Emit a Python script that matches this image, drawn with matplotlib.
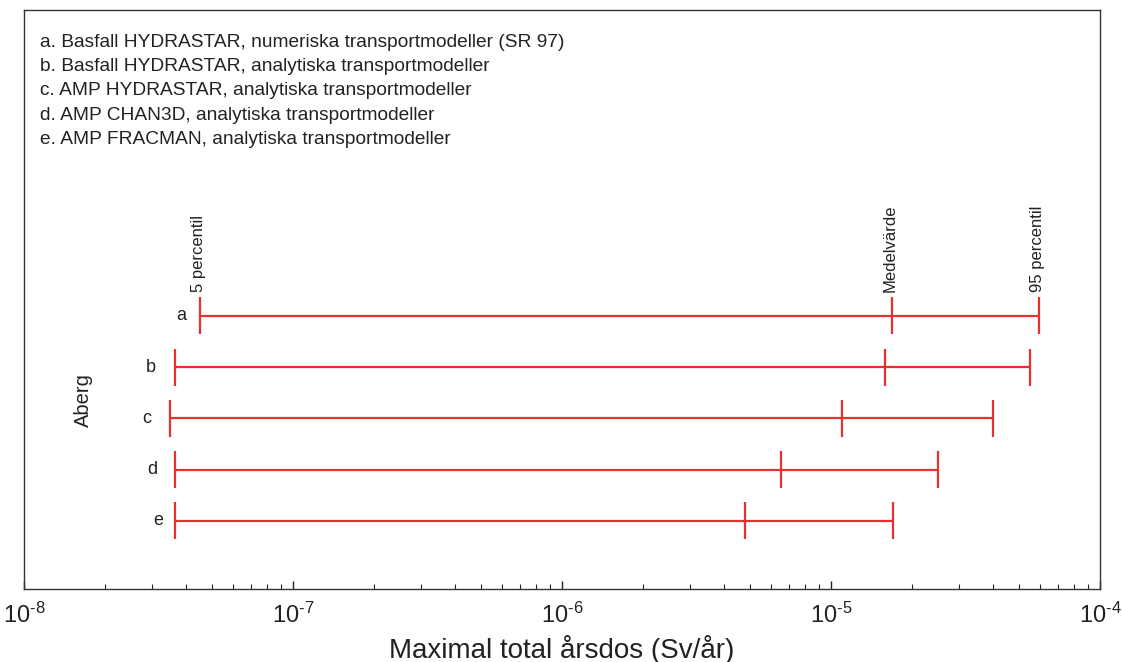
import numpy as np
import matplotlib.pyplot as plt
from matplotlib.ticker import LogLocator, NullFormatter, FuncFormatter

plt.rcParams['font.family'] = ['Liberation Sans', 'DejaVu Sans']
plt.rcParams['mathtext.fontset'] = 'custom'
plt.rcParams['mathtext.rm'] = 'Liberation Sans'

# dose per case: 5 percentile, mean, 95 percentile (Sv/år)
cases = ['a', 'b', 'c', 'd', 'e']
p05 = [4.5e-8, 3.65e-8, 3.5e-8, 3.65e-8, 3.65e-8]
mean = [1.68e-5, 1.59e-5, 1.10e-5, 6.5e-6, 4.8e-6]
p95 = [5.95e-5, 5.5e-5, 4.0e-5, 2.5e-5, 1.7e-5]

legend_lines = [
    'a. Basfall HYDRASTAR, numeriska transportmodeller (SR 97)',
    'b. Basfall HYDRASTAR, analytiska transportmodeller',
    'c. AMP HYDRASTAR, analytiska transportmodeller',
    'd. AMP CHAN3D, analytiska transportmodeller',
    'e. AMP FRACMAN, analytiska transportmodeller',
]

red = '#e8312f'
ink = '#222222'
ypos = np.arange(len(cases), 0, -1)

fig = plt.figure(figsize=(11.22, 6.62), dpi=100)
ax = fig.add_axes([0.0214, 0.1103, 0.9590, 0.8746])

cap = 0.36
label_off = [-10, -14, -14, -13, -9]
for y, lo, mid, hi, name, off in zip(ypos, p05, mean, p95, cases, label_off):
    ax.plot([lo, hi], [y, y], color=red, lw=1.6, solid_capstyle='butt')
    ax.vlines([lo, mid, hi], y - cap, y + cap, color=red, lw=1.6)
    ax.annotate(name, (lo, y), xytext=(off, 0), textcoords='offset points',
                ha='right', va='center', fontsize=13, color=ink)

# percentile markers above the first row
top = ypos[0] + cap + 0.1
for x, txt in zip([p05[0], mean[0], p95[0]],
                  ['5 percentil', 'Medelvärde', '95 percentil']):
    ax.annotate(txt, (x, top), xytext=(-1, 0), textcoords='offset points',
                rotation=90, ha='center', va='bottom', fontsize=12,
                color=ink)

ax.text(0.055, 0.327, 'Aberg', transform=ax.transAxes, rotation=90,
        ha='center', va='center', fontsize=14.5, color=ink)

for i, line in enumerate(legend_lines):
    ax.text(0.0145, 0.944 - i * 0.0418, line, transform=ax.transAxes,
            ha='left', va='center', fontsize=13.8, color=ink)

ax.set_xscale('log')
ax.set_xlim(1e-8, 1e-4)
ax.set_ylim(-0.33, 10.97)
ax.set_yticks([])
ax.xaxis.set_major_locator(LogLocator(base=10, numticks=10))
ax.xaxis.set_major_formatter(FuncFormatter(
    lambda v, _: r'$\mathdefault{10^{\text{-}%d}}$' % round(-np.log10(v))))
ax.xaxis.set_minor_locator(LogLocator(base=10, subs=np.arange(2, 10), numticks=20))
ax.xaxis.set_minor_formatter(NullFormatter())
ax.tick_params(axis='x', which='major', direction='in', length=6, width=1,
               labelsize=17, pad=10, colors=ink)
ax.tick_params(axis='x', which='minor', direction='in', length=3.5, width=0.8,
               colors=ink)
for s in ax.spines.values():
    s.set_color('#333333')
    s.set_linewidth(1.0)

ax.set_xlabel('Maximal total årsdos (Sv/år)', fontsize=20, color=ink,
              labelpad=5)

fig.savefig('out.png', dpi=100)
